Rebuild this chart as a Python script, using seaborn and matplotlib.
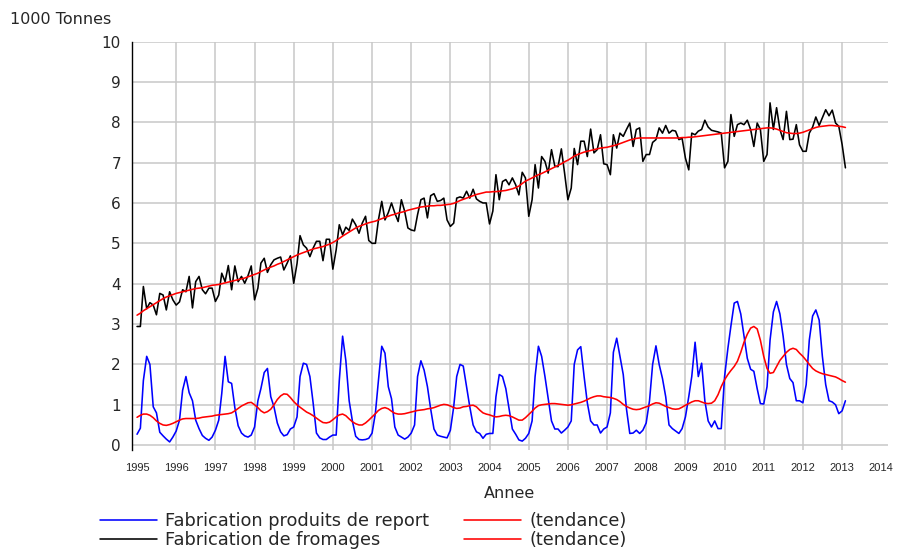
import pandas as pd
import matplotlib.pyplot as plt
import seaborn as sns

# monthly values, Jan 1995 -> Feb 2013 (1000 tonnes)
report = [
    0.27, 0.42, 1.60, 2.20, 2.00, 0.95, 0.80, 0.32, 0.23, 0.15, 0.08, 0.20,  # 1995
    0.35, 0.62, 1.36, 1.70, 1.30, 1.10, 0.62, 0.41, 0.24, 0.17, 0.12, 0.20,  # 1996
    0.37, 0.62, 1.28, 2.20, 1.57, 1.53, 0.93, 0.48, 0.30, 0.23, 0.20, 0.25,  # 1997
    0.45, 1.10, 1.40, 1.80, 1.90, 1.20, 0.95, 0.55, 0.33, 0.23, 0.26, 0.40,  # 1998
    0.45, 0.70, 1.70, 2.03, 2.00, 1.70, 1.05, 0.30, 0.18, 0.14, 0.14, 0.20,  # 1999
    0.25, 0.25, 1.60, 2.70, 2.10, 1.10, 0.60, 0.22, 0.14, 0.13, 0.14, 0.17,  # 2000
    0.30, 0.80, 1.60, 2.45, 2.28, 1.45, 1.15, 0.45, 0.25, 0.20, 0.15, 0.20,  # 2001
    0.30, 0.50, 1.70, 2.09, 1.86, 1.45, 0.90, 0.40, 0.25, 0.22, 0.20, 0.18,  # 2002
    0.37, 0.95, 1.70, 2.00, 1.96, 1.45, 0.95, 0.50, 0.33, 0.29, 0.17, 0.27,  # 2003
    0.29, 0.29, 1.20, 1.75, 1.70, 1.40, 0.90, 0.40, 0.27, 0.13, 0.10, 0.17,  # 2004
    0.29, 0.60, 1.70, 2.45, 2.20, 1.70, 1.15, 0.60, 0.40, 0.40, 0.30, 0.37,  # 2005
    0.45, 0.60, 2.00, 2.36, 2.44, 1.70, 1.05, 0.60, 0.50, 0.50, 0.30, 0.40,  # 2006
    0.45, 0.80, 2.30, 2.65, 2.20, 1.75, 0.90, 0.29, 0.30, 0.37, 0.29, 0.37,  # 2007
    0.55, 1.10, 2.00, 2.46, 2.00, 1.65, 1.20, 0.50, 0.41, 0.35, 0.29, 0.41,  # 2008
    0.70, 1.20, 1.70, 2.55, 1.70, 2.03, 1.10, 0.60, 0.45, 0.60, 0.41, 0.41,  # 2009
    1.70, 2.40, 2.95, 3.52, 3.56, 3.25, 2.70, 2.15, 1.88, 1.83, 1.40, 1.03,  # 2010
    1.02, 1.45, 2.60, 3.30, 3.56, 3.25, 2.70, 2.00, 1.65, 1.55, 1.10, 1.10,  # 2011
    1.05, 1.50, 2.60, 3.20, 3.35, 3.10, 2.20, 1.50, 1.10, 1.07, 1.00, 0.78,  # 2012
    0.85, 1.10,                                                              # 2013
]

fromages = [
    2.94, 2.94, 3.93, 3.38, 3.53, 3.47, 3.23, 3.76, 3.72, 3.35, 3.80, 3.60,  # 1995
    3.47, 3.55, 3.85, 3.80, 4.18, 3.40, 4.05, 4.18, 3.85, 3.75, 3.89, 3.89,  # 1996
    3.56, 3.72, 4.26, 4.05, 4.45, 3.85, 4.44, 4.05, 4.18, 4.01, 4.20, 4.44,  # 1997
    3.60, 3.89, 4.51, 4.63, 4.28, 4.47, 4.59, 4.63, 4.66, 4.34, 4.51, 4.69,  # 1998
    4.01, 4.50, 5.19, 4.96, 4.88, 4.67, 4.88, 5.05, 5.05, 4.57, 5.10, 5.10,  # 1999
    4.36, 4.84, 5.46, 5.21, 5.40, 5.32, 5.60, 5.46, 5.25, 5.50, 5.67, 5.07,  # 2000
    5.00, 5.00, 5.58, 6.04, 5.58, 5.76, 6.00, 5.75, 5.54, 6.08, 5.79, 5.38,  # 2001
    5.33, 5.31, 5.71, 6.08, 6.12, 5.63, 6.18, 6.23, 6.04, 6.06, 6.12, 5.58,  # 2002
    5.42, 5.50, 6.12, 6.15, 6.12, 6.29, 6.12, 6.34, 6.10, 6.04, 6.00, 6.00,  # 2003
    5.48, 5.80, 6.70, 6.08, 6.53, 6.58, 6.45, 6.62, 6.45, 6.20, 6.76, 6.62,  # 2004
    5.67, 6.08, 6.95, 6.37, 7.15, 7.03, 6.74, 7.32, 6.91, 6.90, 7.34, 6.74,  # 2005
    6.08, 6.37, 7.35, 6.95, 7.53, 7.53, 7.15, 7.83, 7.24, 7.32, 7.69, 6.97,  # 2006
    6.95, 6.70, 7.69, 7.36, 7.73, 7.65, 7.82, 7.98, 7.40, 7.82, 7.86, 7.03,  # 2007
    7.20, 7.20, 7.50, 7.57, 7.86, 7.73, 7.92, 7.73, 7.80, 7.78, 7.57, 7.60,  # 2008
    7.11, 6.82, 7.73, 7.69, 7.78, 7.82, 8.05, 7.88, 7.80, 7.78, 7.76, 7.73,  # 2009
    6.87, 7.03, 8.19, 7.65, 7.94, 7.98, 7.94, 8.05, 7.82, 7.40, 7.98, 7.82,  # 2010
    7.03, 7.20, 8.48, 7.82, 8.36, 7.82, 7.57, 8.27, 7.57, 7.58, 7.94, 7.44,  # 2011
    7.28, 7.28, 7.73, 7.88, 8.13, 7.92, 8.11, 8.31, 8.16, 8.30, 7.98, 7.90,  # 2012
    7.45, 6.87,                                                              # 2013
]

report_trend = [
    0.69, 0.74, 0.77, 0.77, 0.74, 0.68, 0.60, 0.54, 0.50, 0.49, 0.51, 0.54,  # 1995
    0.58, 0.62, 0.65, 0.66, 0.66, 0.66, 0.66, 0.67, 0.69, 0.70, 0.71, 0.72,  # 1996
    0.74, 0.75, 0.76, 0.77, 0.78, 0.80, 0.85, 0.91, 0.97, 1.01, 1.05, 1.06,  # 1997
    1.00, 0.93, 0.85, 0.80, 0.83, 0.89, 1.00, 1.13, 1.22, 1.27, 1.26, 1.18,  # 1998
    1.08, 1.00, 0.94, 0.88, 0.82, 0.78, 0.73, 0.67, 0.61, 0.56, 0.55, 0.57,  # 1999
    0.63, 0.70, 0.75, 0.77, 0.73, 0.65, 0.58, 0.53, 0.50, 0.50, 0.55, 0.62,  # 2000
    0.70, 0.78, 0.86, 0.91, 0.93, 0.90, 0.84, 0.79, 0.77, 0.77, 0.78, 0.80,  # 2001
    0.82, 0.84, 0.86, 0.87, 0.88, 0.90, 0.91, 0.93, 0.96, 0.99, 1.01, 1.00,  # 2002
    0.97, 0.93, 0.91, 0.92, 0.95, 0.96, 0.98, 0.99, 0.95, 0.87, 0.80, 0.77,  # 2003
    0.75, 0.72, 0.70, 0.71, 0.73, 0.74, 0.73, 0.70, 0.66, 0.62, 0.62, 0.68,  # 2004
    0.76, 0.84, 0.92, 0.98, 1.00, 1.01, 1.02, 1.03, 1.03, 1.02, 1.01, 1.00,  # 2005
    0.99, 1.00, 1.02, 1.04, 1.06, 1.09, 1.13, 1.17, 1.20, 1.22, 1.22, 1.20,  # 2006
    1.19, 1.18, 1.16, 1.13, 1.08, 1.01, 0.96, 0.92, 0.89, 0.88, 0.89, 0.92,  # 2007
    0.95, 0.98, 1.02, 1.05, 1.04, 1.00, 0.96, 0.93, 0.90, 0.89, 0.90, 0.94,  # 2008
    0.99, 1.03, 1.07, 1.10, 1.10, 1.07, 1.04, 1.03, 1.04, 1.10, 1.25, 1.45,  # 2009
    1.62, 1.75, 1.85, 1.95, 2.08, 2.30, 2.55, 2.75, 2.90, 2.94, 2.88, 2.60,  # 2010
    2.20, 1.90, 1.78, 1.80, 1.95, 2.10, 2.20, 2.30, 2.37, 2.40, 2.37, 2.28,  # 2011
    2.20, 2.10, 2.00, 1.90, 1.84, 1.80, 1.77, 1.75, 1.73, 1.71, 1.69, 1.65,  # 2012
    1.60, 1.56,                                                              # 2013
]

fromages_trend = [
    3.22, 3.27, 3.33, 3.38, 3.43, 3.48, 3.53, 3.58, 3.63, 3.67, 3.70, 3.73,  # 1995
    3.76, 3.78, 3.80, 3.82, 3.84, 3.86, 3.88, 3.89, 3.90, 3.92, 3.94, 3.96,  # 1996
    3.97, 3.98, 4.00, 4.02, 4.04, 4.06, 4.08, 4.10, 4.12, 4.14, 4.17, 4.20,  # 1997
    4.23, 4.26, 4.30, 4.34, 4.38, 4.41, 4.44, 4.48, 4.51, 4.55, 4.59, 4.63,  # 1998
    4.67, 4.71, 4.74, 4.77, 4.80, 4.83, 4.86, 4.88, 4.90, 4.92, 4.95, 4.98,  # 1999
    5.02, 5.07, 5.12, 5.18, 5.23, 5.28, 5.33, 5.38, 5.42, 5.45, 5.48, 5.51,  # 2000
    5.53, 5.55, 5.58, 5.61, 5.64, 5.67, 5.70, 5.72, 5.75, 5.77, 5.79, 5.82,  # 2001
    5.84, 5.86, 5.88, 5.90, 5.91, 5.92, 5.93, 5.93, 5.94, 5.94, 5.95, 5.96,  # 2002
    5.97, 5.99, 6.02, 6.06, 6.09, 6.12, 6.15, 6.18, 6.21, 6.23, 6.25, 6.27,  # 2003
    6.27, 6.28, 6.28, 6.29, 6.30, 6.31, 6.33, 6.35, 6.38, 6.42, 6.48, 6.54,  # 2004
    6.58, 6.62, 6.66, 6.70, 6.73, 6.77, 6.81, 6.85, 6.89, 6.93, 6.97, 7.02,  # 2005
    7.06, 7.11, 7.16, 7.20, 7.23, 7.26, 7.28, 7.30, 7.32, 7.34, 7.36, 7.37,  # 2006
    7.38, 7.40, 7.42, 7.44, 7.47, 7.50, 7.53, 7.56, 7.58, 7.60, 7.61, 7.61,  # 2007
    7.61, 7.61, 7.61, 7.61, 7.61, 7.61, 7.61, 7.61, 7.61, 7.61, 7.61, 7.62,  # 2008
    7.62, 7.63, 7.63, 7.64, 7.65, 7.66, 7.67, 7.68, 7.69, 7.70, 7.71, 7.72,  # 2009
    7.73, 7.74, 7.75, 7.76, 7.77, 7.78, 7.79, 7.80, 7.81, 7.82, 7.83, 7.84,  # 2010
    7.85, 7.86, 7.86, 7.85, 7.83, 7.80, 7.77, 7.74, 7.73, 7.72, 7.72, 7.73,  # 2011
    7.75, 7.78, 7.81, 7.84, 7.87, 7.89, 7.90, 7.91, 7.92, 7.92, 7.91, 7.90,  # 2012
    7.89, 7.87,                                                              # 2013
]

years = list(range(1995, 2015))
grid_years = list(range(1996, 2014))

df = pd.DataFrame({
    "date": pd.date_range("1995-01-01", periods=len(report), freq="MS"),
    "report": report,
    "fromages": fromages,
    "report_trend": report_trend,
    "fromages_trend": fromages_trend,
})

sns.set_style("white")
plt.rcParams["font.family"] = ["DejaVu Sans"]

fig = plt.figure(figsize=(8.97, 5.51), dpi=100)
ax = fig.add_axes([132 / 897, 1 - 450 / 551, (888 - 132) / 897, (450 - 41.5) / 551])

lw = 1.15
sns.lineplot(data=df, x="date", y="report", color="blue", lw=lw, ax=ax,
             label="Fabrication produits de report", legend=False)
sns.lineplot(data=df, x="date", y="fromages", color="black", lw=lw, ax=ax,
             label="Fabrication de fromages", legend=False)
sns.lineplot(data=df, x="date", y="report_trend", color="red", lw=lw, ax=ax,
             label="(tendance)", legend=False)
sns.lineplot(data=df, x="date", y="fromages_trend", color="red", lw=lw, ax=ax,
             label="(tendance)", legend=False)

grid_col = "#c8c8c8"
for yr in grid_years:
    ax.axvline(pd.Timestamp(f"{yr}-01-01"), color=grid_col, lw=1.1, zorder=0)
ax.set_yticks(range(0, 11))
ax.grid(axis="y", color=grid_col, lw=1.1, zorder=0)
ax.grid(axis="x", visible=False)
ax.set_axisbelow(True)

ax.set_ylim(-0.12, 10.0)
ax.set_xlim(pd.Timestamp("1994-11-15"), pd.Timestamp("2014-03-05"))

ax.set_xticks([pd.Timestamp(f"{y}-01-01") for y in years])
ax.set_xticklabels([str(y) for y in years], fontsize=8, family="Liberation Sans")
ax.tick_params(axis="x", length=7, width=1, direction="out", pad=2.5, color="black")
ax.tick_params(axis="y", length=5, width=1, direction="out", labelsize=11, pad=3, color="black")
ax.set_xlabel("")
ax.set_ylabel("")

for side in ["top", "right", "bottom"]:
    ax.spines[side].set_visible(False)
ax.spines["left"].set_color("black")
ax.spines["left"].set_linewidth(1)

fig.text(10 / 897, 1 - 20 / 551, "1000 Tonnes", ha="left", va="center", fontsize=11.5)
fig.text(510 / 897, 1 - 493 / 551, "Annee", ha="center", va="center", fontsize=11.5)

handles, labels = ax.get_legend_handles_labels()
fig.legend(handles, labels, loc="upper left", bbox_to_anchor=(100 / 897, 1 - 512 / 551),
           ncol=2, frameon=False, fontsize=12.8, handlelength=3.2, handletextpad=0.45,
           columnspacing=2.0, labelspacing=0.08, borderpad=0, borderaxespad=0)

fig.savefig("out.png", dpi=100)
